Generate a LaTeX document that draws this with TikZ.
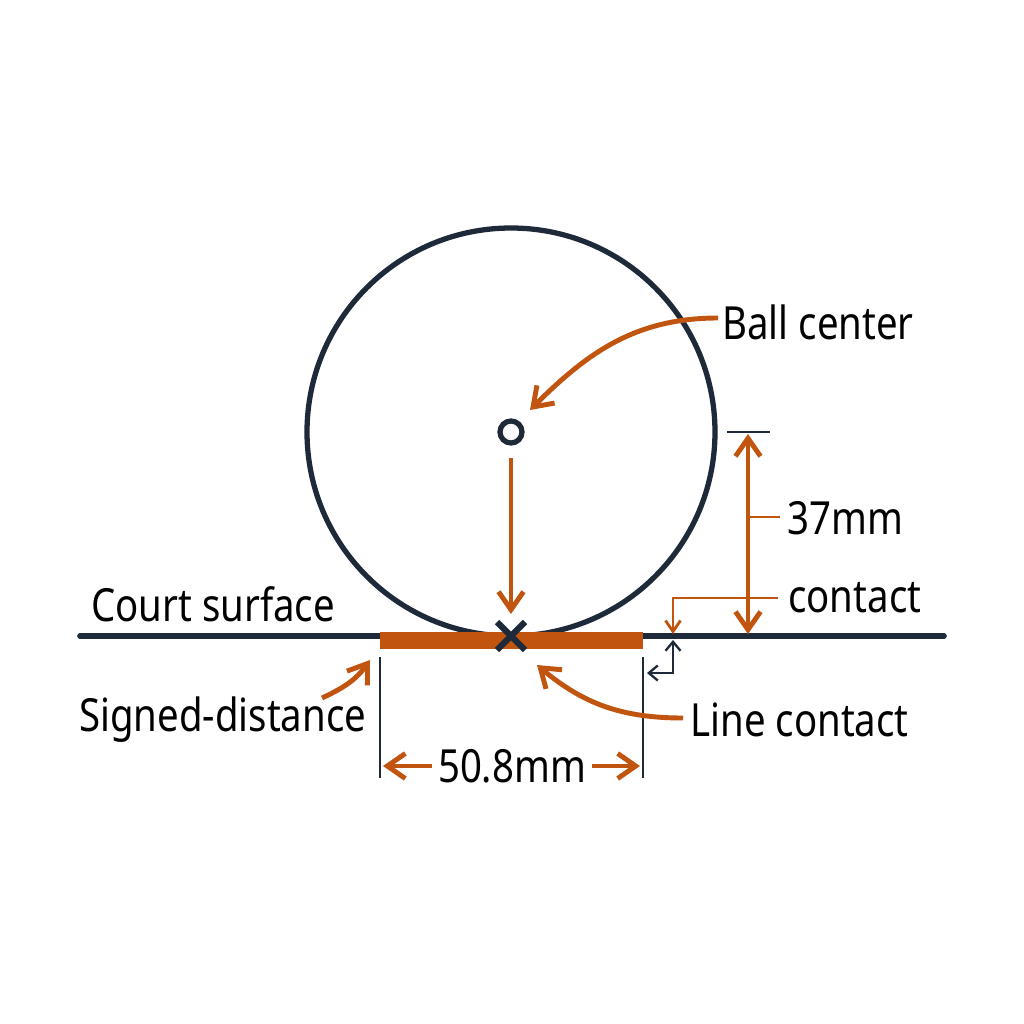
\documentclass[tikz,border=0pt]{standalone}
\usepackage{fontspec}
\setmainfont[FakeStretch=0.84]{Noto Sans}
\usetikzlibrary{arrows.meta}
\definecolor{navy}{HTML}{1E2A3A}
\definecolor{rust}{HTML}{C1550F}
\tikzset{
  lbl/.style={font=\fontsize{26}{30}\selectfont, text=black, inner sep=0pt},
  oarr/.style={draw=rust, line width=2.8pt, -{Straight Barb[length=0.36cm,width=0.5cm,line width=2.8pt]}},
  oarrs/.style={draw=rust, line width=1.6pt, -{Straight Barb[length=0.22cm,width=0.3cm,line width=1.6pt]}},
  darr/.style={draw=navy, line width=1.3pt, {Straight Barb[length=0.18cm,width=0.3cm,line width=1.3pt]}-{Straight Barb[length=0.18cm,width=0.3cm,line width=1.3pt]}},
  dimline/.style={draw=navy, line width=1.5pt},
}
\begin{document}
\begin{tikzpicture}[x=0.02cm,y=-0.02cm]
\useasboundingbox[fill=white] (0,0) rectangle (1024,1024);
% ball
\node[circle, draw=navy, line width=3pt, minimum size=408*0.02cm, inner sep=0pt] (ball) at (511,432) {};
% ground
\coordinate (gl) at (80,636);
\coordinate (gr) at (944,636);
\draw[navy, line width=3.2pt, line cap=round] (gl) -- (gr);
% contact bar
\fill[rust] (380,632) rectangle (643,649);
\coordinate (barL) at (380,640);
\coordinate (barR) at (643,640);
% centre marker
\node[circle, draw=navy, line width=3pt, minimum size=22*0.02cm, inner sep=0pt, fill=white] (cen) at (511,432) {};
% X mark
\coordinate (cp) at (511,636);
\draw[navy, line width=3.5pt] (497,622) -- (525,650) (497,650) -- (525,622);
% vertical arrow from centre to contact
\coordinate (va) at (511,458);
\coordinate (vb) at (511,614);
\draw[oarr] (va) -- (vb);
% Ball center label
\node[lbl, anchor=west] (bc) at (722,322) {Ball center};
\draw[oarr] (bc.west) ++(-4,-4) coordinate (bcs) to[out=180,in=45] (530,410);
% 37mm dimension
\coordinate (t1) at (727,432);
\coordinate (t2) at (770,432);
\draw[dimline] (t1) -- (t2);
\coordinate (d1) at (748,434);
\coordinate (d2) at (748,634);
\draw[draw=rust, line width=2.8pt, {Straight Barb[length=0.36cm,width=0.5cm,line width=2.8pt]}-{Straight Barb[length=0.36cm,width=0.5cm,line width=2.8pt]}] (d1) -- (d2);
\node[lbl, anchor=west] (mm37) at (787,518) {37mm};
\draw[rust, line width=1.6pt] (748,517) -- (780,517);
% contact
\node[lbl, anchor=west] (ct) at (788,598) {contact};
\coordinate (cbend) at (673,598);
\coordinate (ctip) at (673,634);
\draw[oarrs] (778,598) -- (cbend) -- (ctip);
% dark elbow arrow
\coordinate (ea) at (647,673);
\coordinate (eb) at (673,673);
\coordinate (ec) at (673,640);
\draw[darr] (ea) -- (eb) -- (ec);
% court surface
\node[lbl, anchor=west] (cs) at (91,604) {Court surface};
% dimension extension lines
\coordinate (e1a) at (380,657);
\coordinate (e1b) at (380,778);
\coordinate (e2a) at (643,657);
\coordinate (e2b) at (643,778);
\draw[dimline] (e1a) -- (e1b) (e2a) -- (e2b);
\node[lbl] (w) at (512,766) {50.8mm};
\draw[oarr] (432,766) -- (383,766);
\draw[oarr] (592,766) -- (640,766);
% Signed-distance
\node[lbl, anchor=west] (sd) at (79,720) {Signed-distance};
\draw[oarr] (322,698) to[out=25,in=-125] (370,660);
% Line contact
\node[lbl, anchor=west] (lc) at (690,720) {Line contact};
\draw[oarr] (683,718) to[out=180,in=-40] (537,665);
\end{tikzpicture}
\end{document}
